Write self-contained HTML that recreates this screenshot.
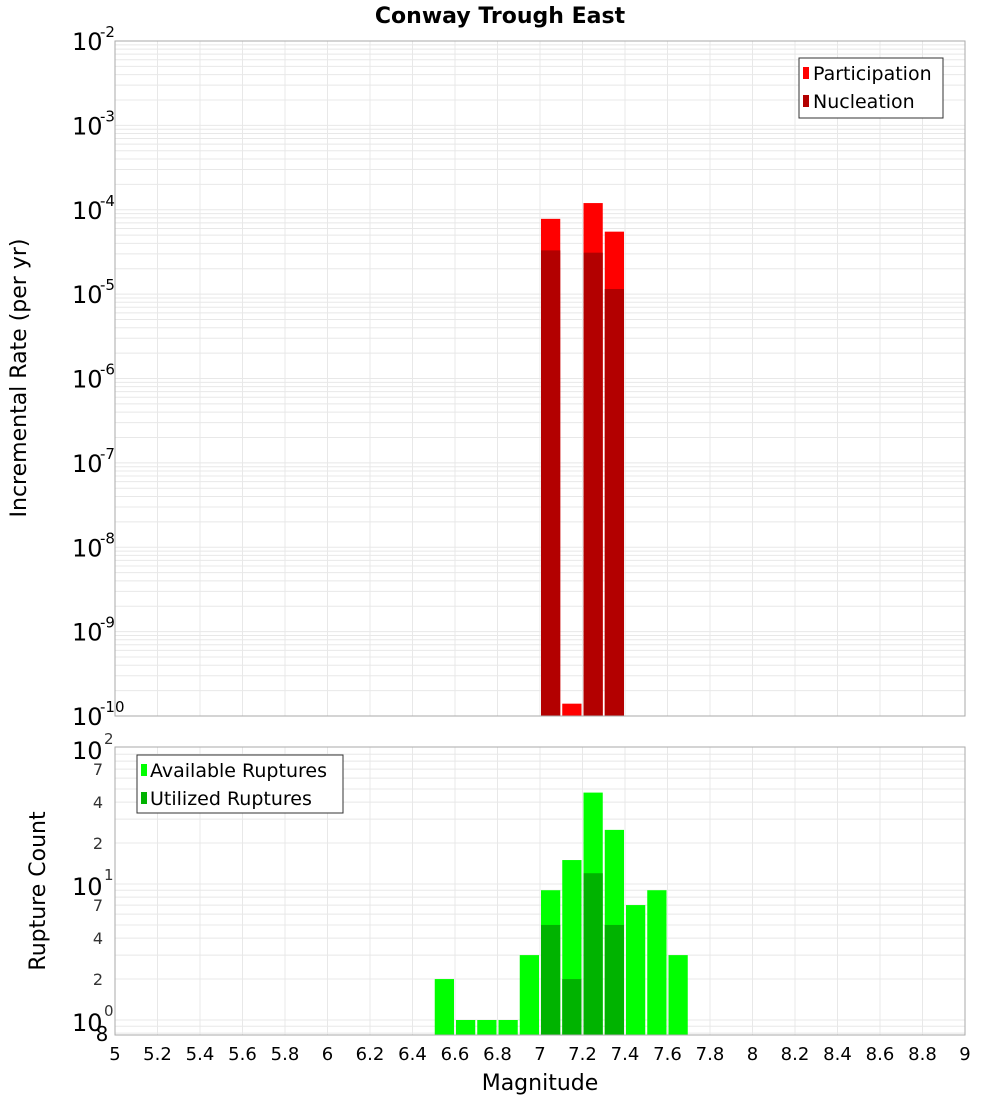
<!DOCTYPE html>
<html><head><meta charset="utf-8"><style>
body{margin:0;background:#fff;font-family:"Liberation Sans","DejaVu Sans",sans-serif}
</style></head><body>
<svg id="c" width="1000" height="1100" xmlns="http://www.w3.org/2000/svg" font-family="DejaVu Sans, Liberation Sans, sans-serif"></svg>
<script>
const binStarts=[6.5,6.6,6.7,6.8,6.9,7.0,7.1,7.2,7.3,7.4,7.5,7.6];
const participation=[0,0,0,0,0,7.8e-5,1.4e-10,1.2e-4,5.5e-5,0,0,0];
const nucleation=[0,0,0,0,0,3.3e-5,0,3.1e-5,1.15e-5,0,0,0];
const available=[2,1,1,1,3,9,15,47,25,7,9,3];
const utilized=[0,0,0,0,0,5,2,12,5,0,0,0];
const xTicks=["5","5.2","5.4","5.6","5.8","6","6.2","6.4","6.6","6.8","7","7.2","7.4","7.6","7.8","8","8.2","8.4","8.6","8.8","9"];
const topExps=[-2,-3,-4,-5,-6,-7,-8,-9,-10];
const botMinor=["7","4","2"];

const svg=document.getElementById('c');const NS='http://www.w3.org/2000/svg';
function mk(t,a,p){const e=document.createElementNS(NS,t);for(const k in a)e.setAttribute(k,a[k]);(p||svg).appendChild(e);return e;}
const X0=115,X1=965;
const xs=v=>X0+(v-5)/4*(X1-X0);
const T0=41,T1=716;
const yTop=v=>T0+(-2-Math.log10(v))*(T1-T0)/8;
const B0=747,B1=1035;
const yBot=v=>1020-Math.log10(v)*136;

// backgrounds
let r=mk('rect',{x:X0,y:T0,width:X1-X0,height:T1-T0,fill:'#fff'});

// grids
const g=mk('g',{stroke:'#e8e8e8','stroke-width':1});

for(let d=-10;d<-2;d++)for(let m=1;m<10;m++){const y=yTop(m*Math.pow(10,d));mk('line',{x1:X0,x2:X1,y1:y,y2:y},g);}
for(let d=-1;d<2;d++)for(let m=1;m<10;m++){const v=m*Math.pow(10,d);const y=yBot(v);if(y>B0&&y<B1)mk('line',{x1:X0,x2:X1,y1:y,y2:y},g);}
for(let i=0;i<xTicks.length;i++){const x=xs(+xTicks[i]);mk('line',{x1:x,x2:x,y1:T0,y2:T1},g);mk('line',{x1:x,x2:x,y1:B0,y2:B1},g);}

// bars
const w=(X1-X0)/40;
binStarts.forEach((b,i)=>{
  const x=xs(b)+1;
  if(participation[i]>0){const e=mk('rect',{x,y:yTop(participation[i]),width:w-2,height:T1-yTop(participation[i]),fill:'#ff0000'});
    }
  if(nucleation[i]>0){const e=mk('rect',{x,y:yTop(nucleation[i]),width:w-2,height:T1-yTop(nucleation[i]),fill:'#b30000'});
    }
  if(available[i]>0){const e=mk('rect',{x,y:yBot(available[i]),width:w-2,height:B1-yBot(available[i]),fill:'#00ff00'});
    }
  if(utilized[i]>0){const e=mk('rect',{x,y:yBot(utilized[i]),width:w-2,height:B1-yBot(utilized[i]),fill:'#00b300'});
    }
});
let f=mk('rect',{x:X0,y:T0,width:X1-X0,height:T1-T0,fill:'none',stroke:'#aaa'});

f=mk('rect',{x:X0,y:B0,width:X1-X0,height:B1-B0,fill:'none',stroke:'#aaa'});


// top y labels
topExps.forEach(e=>{const y=yTop(Math.pow(10,e));
  const t=mk('text',{x:72,y:y+9,'font-size':24,fill:'#000'});t.textContent='10';
  
  const s=mk('text',{x:100,y:y-4,'font-size':15,fill:'#000'});s.textContent=String(e);
  });
// bottom y labels
[[0,1020],[1,1020-136],[2,1020-272]].forEach(([e,y])=>{
  const t=mk('text',{x:72,y:y+11,'font-size':24,fill:'#000'});t.textContent='10';
  
  const s=mk('text',{x:104,y:y-4,'font-size':15,fill:'#333'});s.textContent=String(e);
  });
[0,1].forEach(d=>botMinor.forEach(m=>{const y=yBot(+m*Math.pow(10,d));
  const t=mk('text',{x:103,y:y+6,'font-size':16,fill:'#333','text-anchor':'end'});t.textContent=m;
  }));
let t8=mk('text',{x:102,y:1041,'font-size':20,fill:'#000','text-anchor':'middle'});t8.textContent='8';

// x labels
xTicks.forEach(l=>{const t=mk('text',{x:xs(+l),y:1060,'font-size':18,fill:'#000','text-anchor':'middle'});t.textContent=l;
  });

function txt(s,a,n){const t=mk('text',a);t.textContent=s;return t;}
txt('Conway Trough East',{x:500,y:23,'font-size':22,'font-weight':'bold','text-anchor':'middle'},'chart-title');
txt('Magnitude',{x:540,y:1090,'font-size':22,'text-anchor':'middle'},'x-axis-title');
txt('Incremental Rate (per yr)',{x:0,y:0,'font-size':22,'text-anchor':'middle',transform:'translate(26,378) rotate(-90)'},'top-y-axis-title');
txt('Rupture Count',{x:0,y:0,'font-size':22,'text-anchor':'middle',transform:'translate(45,891) rotate(-90)'},'bottom-y-axis-title');

// legends
let lg=mk('g',{});
mk('rect',{x:799,y:58,width:144,height:60,fill:'#fff',stroke:'#333'},lg);
mk('rect',{x:803,y:67,width:6,height:12,fill:'#ff0000'},lg);
mk('rect',{x:803,y:95,width:6,height:12,fill:'#b30000'},lg);
txt('Participation',{x:813,y:80,'font-size':19},'legend-participation');
txt('Nucleation',{x:813,y:108,'font-size':19},'legend-nucleation');
lg=mk('g',{});
mk('rect',{x:137,y:755,width:206,height:58,fill:'#fff',stroke:'#333'},lg);
mk('rect',{x:141,y:764,width:6,height:12,fill:'#00ff00'},lg);
mk('rect',{x:141,y:792,width:6,height:12,fill:'#00b300'},lg);
txt('Available Ruptures',{x:150,y:777,'font-size':19},'legend-available');
txt('Utilized Ruptures',{x:150,y:805,'font-size':19},'legend-utilized');
</script>
</body></html>
